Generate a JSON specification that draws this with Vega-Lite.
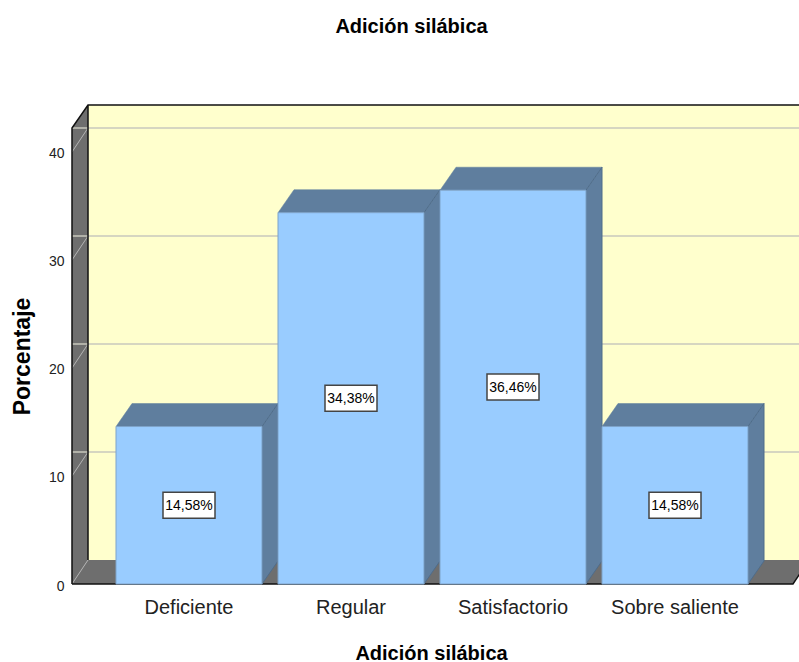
{
"$schema":"https://vega.github.io/schema/vega-lite/v6.json",
"autosize":{"type":"none"},
"padding":{"left":72,"top":128,"right":0,"bottom":78},
"width":727,"height":456,
"background":"white",
"config":{"view":{"stroke":null},"font":"Liberation Sans",
 "axisX":{"titleFont":"Liberation Sans","titleFontSize":20,"titleFontWeight":"bold","titleColor":"#000000","titleX":359,"titleY":75,"titleBaseline":"alphabetic","labelFont":"Liberation Sans","labelFontSize":20,"labelColor":"#222222","labelAngle":0,"labelPadding":13,"domain":false,"ticks":false,"grid":false}},
"title":{"text":"Adición silábica","font":"Liberation Sans","fontSize":20,"fontWeight":"bold","color":"#000000","anchor":"middle","dx":-24,"offset":65},
"data":{"values":[
{"categoria":"Deficiente","porcentaje":14.58,"etiqueta":"14,58%"},
{"categoria":"Regular","porcentaje":34.38,"etiqueta":"34,38%"},
{"categoria":"Satisfactorio","porcentaje":36.46,"etiqueta":"36,46%"},
{"categoria":"Sobre saliente","porcentaje":14.58,"etiqueta":"14,58%"}
]},
"resolve":{"scale":{"y":"independent"}},
"layer":[
{"data":{"values":[{"base":0}]},
 "mark":{"type":"point","shape":"M-101,-24L-101,-479L620,-479L620,-24Z","size":4,"filled":true,"fill":"#ffffcd","strokeWidth":0,"opacity":1,"clip":false},
 "encoding":{
  "x":{"datum":"Deficiente","type":"nominal","title":"Adición silábica","scale":{"type":"band","domain":["Deficiente","Regular","Satisfactorio","Sobre saliente"],"range":[36,684],"paddingInner":0.0988,"paddingOuter":0.0494}},
  "y":{"field":"base","type":"quantitative","scale":{"domain":[0,42.22]},
   "axis":{"title":"Porcentaje","titleFont":"Liberation Sans","titleFontSize":23,"titleFontWeight":"bold","titleColor":"#000000","titleX":-38,"titleY":228,"values":[0,10,20,30,40],"format":"d","labelFont":"Liberation Sans","labelFontSize":14,"labelColor":"#222222","labelPadding":8,"labelOffset":2,"domain":false,"ticks":false,"grid":false}}
 }},
{"data":{"values":[{"base":0}]},
 "mark":{"type":"point","shape":"M-117,0L-101,-24L620,-24L604,0ZM-117,0L-117,-456L-101,-479L-101,-24Z","size":4,"filled":true,"fill":"#6e6e6e","strokeWidth":0,"opacity":1},
 "encoding":{
  "x":{"datum":"Deficiente","type":"nominal","title":"Adición silábica"},
  "y":{"field":"base","type":"quantitative","scale":{"domain":[0,42.22]},"axis":null}
 }},
{"data":{"values":[{"nivel":10},{"nivel":20},{"nivel":30},{"nivel":40}]},
 "mark":{"type":"rule","xOffset":16,"yOffset":-24,"stroke":"#c9c9bd","strokeWidth":1.5},
 "encoding":{
  "y":{"field":"nivel","type":"quantitative","scale":{"domain":[0,42.22]},"axis":null}
 }},
{"data":{"values":[{"nivel":0},{"nivel":10},{"nivel":20},{"nivel":30},{"nivel":40}]},
 "mark":{"type":"point","shape":"M-117,0L-101,-24","size":4,"filled":false,"stroke":"#b5b5b5","strokeWidth":1,"opacity":1},
 "encoding":{
  "x":{"datum":"Deficiente","type":"nominal","title":"Adición silábica"},
  "y":{"field":"nivel","type":"quantitative","scale":{"domain":[0,42.22]},"axis":null}
 }},
{"data":{"values":[{"base":0}]},
 "mark":{"type":"point","shape":"M-117,0L-117,-456L-101,-479L620,-479M-101,-479L-101,-24M-117,0L604,0L620,-24","size":4,"filled":false,"stroke":"#111111","strokeWidth":1.5,"opacity":1},
 "encoding":{
  "x":{"datum":"Deficiente","type":"nominal","title":"Adición silábica"},
  "y":{"field":"base","type":"quantitative","scale":{"domain":[0,42.22]},"axis":null}
 }},
{"mark":{"type":"point","shape":"M-73,0L-57,-23L89,-23L73,0Z","filled":true,"size":4,"fill":"#5f7e9e","stroke":"#5f7e9e","strokeWidth":0.5,"opacity":1},
 "encoding":{
  "x":{"field":"categoria","type":"nominal","title":"Adición silábica"},
  "y":{"field":"porcentaje","type":"quantitative","scale":{"domain":[0,42.22]},"axis":null}
 }},
{"mark":{"type":"point","filled":true,"size":4,"fill":"#5f7e9e","stroke":"#4f6c8a","strokeWidth":1,"opacity":1},
 "encoding":{
  "x":{"field":"categoria","type":"nominal","title":"Adición silábica"},
  "y":{"field":"porcentaje","type":"quantitative","scale":{"domain":[0,42.22]},"axis":null},
  "shape":{"field":"categoria","type":"nominal","legend":null,"scale":{"domain":["Deficiente","Regular","Satisfactorio","Sobre saliente"],"range":["M73,0L89,-23L89,134.5L73,157.5Z","M73,0L89,-23L89,348.3L73,371.3Z","M73,0L89,-23L89,370.8L73,393.8Z","M73,0L89,-23L89,134.5L73,157.5Z"]}}
 }},
{"mark":{"type":"bar","fill":"#99ccff","stroke":"#7ea3c9","strokeWidth":1},
 "encoding":{
  "x":{"field":"categoria","type":"nominal","title":"Adición silábica"},
  "y":{"field":"porcentaje","type":"quantitative","scale":{"domain":[0,42.22]},"axis":null}
 }},
{"mark":{"type":"point","shape":"M-26,-13L26,-13L26,13L-26,13Z","filled":true,"size":4,"fill":"#ffffff","stroke":"#444444","strokeWidth":1.5,"opacity":1},
 "encoding":{
  "x":{"field":"categoria","type":"nominal","title":"Adición silábica"},
  "y":{"field":"porcentaje","type":"quantitative","scale":{"domain":[0,84.44]},"axis":null}
 }},
{"mark":{"type":"text","font":"Liberation Sans","fontSize":14,"color":"#000000","align":"center","baseline":"middle","dy":1},
 "encoding":{
  "x":{"field":"categoria","type":"nominal","title":"Adición silábica"},
  "y":{"field":"porcentaje","type":"quantitative","scale":{"domain":[0,84.44]},"axis":null},
  "text":{"field":"etiqueta","type":"nominal"}
 }}
]
}
